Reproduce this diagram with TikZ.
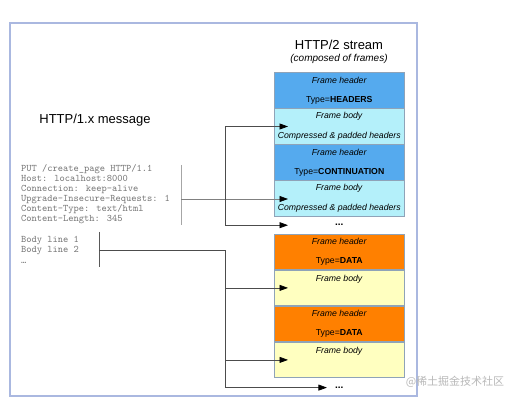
\documentclass[tikz,border=0pt]{standalone}
\usepackage{fontspec}
\setmainfont{Liberation Sans}
\newfontfamily\cjkfont{Noto Sans CJK SC}
\usetikzlibrary{arrows.meta,positioning}
\definecolor{hdrblue}{HTML}{55AAEE}
\definecolor{bdycyan}{HTML}{B4F0FA}
\definecolor{hdrorange}{HTML}{FF8000}
\definecolor{bdyyellow}{HTML}{FFFFC0}
\definecolor{boxline}{HTML}{8FA3B8}
\definecolor{outerline}{HTML}{AAB8E0}
\begin{document}
\begin{tikzpicture}[x=1pt,y=-1pt,font=\fontsize{8.7}{10}\selectfont,
  framebox/.style={draw=boxline,line width=.6pt,minimum width=130pt,minimum height=35.4pt,inner sep=0pt,align=center},
  hdrbox/.style={framebox,fill=#1},
  bdybox/.style={framebox,fill=#1},
  dotsnode/.style={inner sep=0pt,font=\fontsize{10}{10}\selectfont\bfseries},
  conn/.style={-{Triangle[length=8.5pt,width=6pt,color=black]},black!70,line width=.7pt},
  bracket/.style={line width=.8pt}]
 \useasboundingbox (0,0) rectangle (515,401);
 \draw[outerline,line width=1.3pt] (10,23) rectangle (417,396);
 % titles
 \node (streamtitle) at (339,45) {\fontsize{13}{15}\selectfont HTTP/2 stream};
 \node (streamsub) at (339,58.7) {\fontsize{10}{12}\selectfont\itshape (composed of frames)};
 \node (msgtitle) at (95,120) {\fontsize{13}{15}\selectfont HTTP/1.x message};
 % HTTP/1.x message text
 \node[anchor=west,align=left,inner sep=0pt,text=black!55,font=\ttfamily\fontsize{10}{9.94}\selectfont] (reqhead) at (21,194.2)
   {PUT /create\_page HTTP/1.1\\Host: localhost:8000\\Connection: keep-alive\\Upgrade-Insecure-Requests: 1\\Content-Type: text/html\\Content-Length: 345};
 \node[anchor=west,align=left,inner sep=0pt,text=black!55,font=\ttfamily\fontsize{10}{10.5}\selectfont] (reqbody) at (21,249.5)
   {Body line 1\\Body line 2\\…};
 % frames
 \node[hdrbox=hdrblue] (h1) at (339.3,90.5) {\textit{Frame header}\\[8.6pt]Type=\textbf{HEADERS}};
 \node[bdybox=bdycyan,below=0pt of h1] (b1) {\textit{Frame body}\\[9.6pt]\textit{Compressed \& padded headers}};
 \node[hdrbox=hdrblue,below=0pt of b1] (h2) {\textit{Frame header}\\[8.6pt]Type=\textbf{CONTINUATION}};
 \node[bdybox=bdycyan,below=0pt of h2] (b2) {\textit{Frame body}\\[9.6pt]\textit{Compressed \& padded headers}};
 \node[dotsnode,below=0pt of b2,minimum height=17pt] (dots1) {...};
 \node[hdrbox=hdrorange,below=0pt of dots1] (h3) {\textit{Frame header}\\[8.6pt]Type=\textbf{DATA}};
 \node[bdybox=bdyyellow,below=0pt of h3] (b3) {\textit{Frame body}\\[9.6pt]~};
 \node[hdrbox=hdrorange,below=0pt of b3] (h4) {\textit{Frame header}\\[8.6pt]Type=\textbf{DATA}};
 \node[bdybox=bdyyellow,below=0pt of h4] (b4) {\textit{Frame body}\\[9.6pt]~};
 \node[dotsnode,below=0pt of b4,minimum height=19pt] (dots2) {...};
 % brackets and split points
 \coordinate (hbtop) at (181,165);
 \coordinate (hbbot) at (181,225);
 \coordinate (hbmid) at (181,199);
 \coordinate (bbtop) at (99,232);
 \coordinate (bbbot) at (99,267);
 \coordinate (bbmid) at (99,250);
 \coordinate (splitx) at (225,0);
 \coordinate (tipx) at ([xshift=14pt]b1.west);
 \draw[bracket,black!35] (hbtop) -- (hbbot);
 \draw[bracket,black!65] (bbtop) -- (bbbot);
 % header connectors
 \draw[conn,black!50] (hbmid) -- (hbmid -| tipx);
 \draw[conn] (b1.west -| splitx) -- (b1.west -| tipx);
 \draw[conn] (b1.west -| splitx) -- (dots1 -| splitx) -- (dots1 -| tipx);
 % body connectors
 \draw[conn] (bbmid) -- (bbmid -| splitx) -- (dots2 -| splitx) -- ([xshift=-8pt]dots2.west);
 \draw[conn] (b3.west -| splitx) -- (b3.west -| tipx);
 \draw[conn] (b4.west -| splitx) -- (b4.west -| tipx);
 % watermark
 \node[text=black!28,font=\cjkfont\fontsize{11}{12}\selectfont] (mark) at (455,382) {@稀土掘金技术社区};
\end{tikzpicture}
\end{document}
